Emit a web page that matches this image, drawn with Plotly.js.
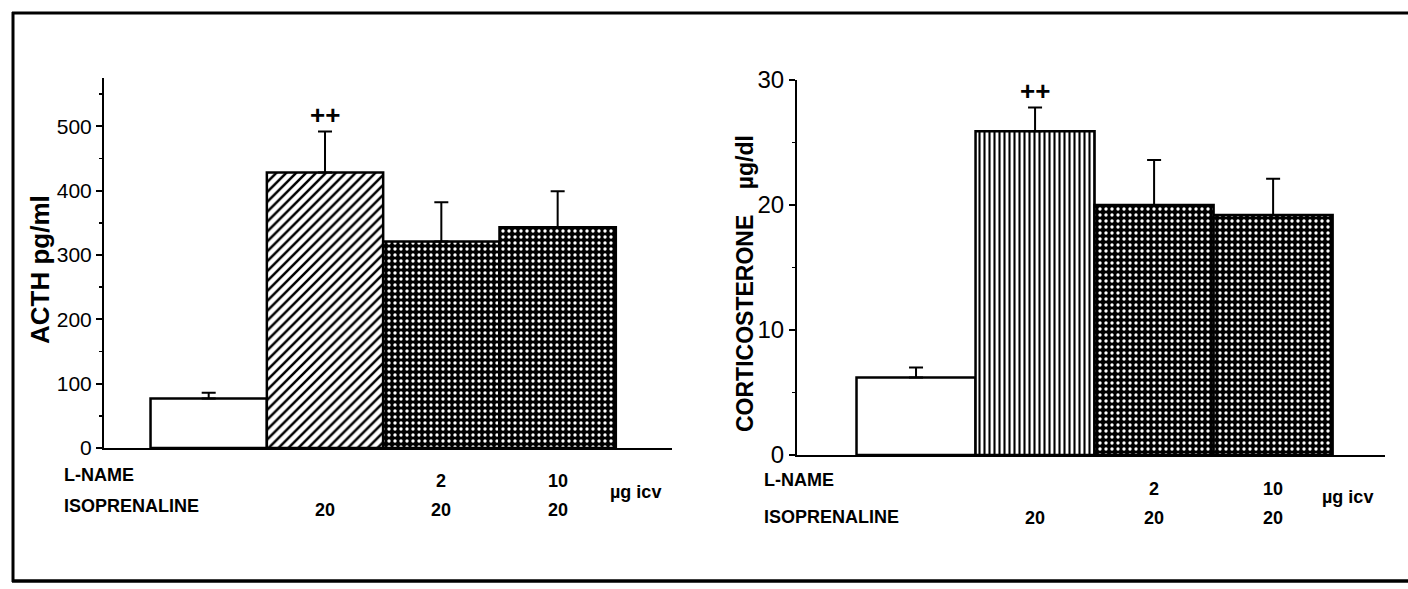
<!DOCTYPE html>
<html>
<head>
<meta charset="utf-8">
<script src="https://cdn.plot.ly/plotly-3.0.1.min.js"></script>
<style>html,body{margin:0;padding:0;background:#fff;}#chart{width:1408px;height:589px;}</style>
</head>
<body>
<div id="chart"></div>
<script>
// ---------- data ----------
const categories = ['Vehicle', 'ISO 20', 'L-NAME 2 + ISO 20', 'L-NAME 10 + ISO 20'];
const acthValues = [77, 428, 321, 343];
const acthErrors = [9, 64, 61, 56];
const corticoValues = [6.2, 25.9, 20.0, 19.2];
const corticoErrors = [0.8, 1.9, 3.6, 2.9];
const significance = ['', '++', '', ''];
const lNameDoses = ['', '', '2', '10'];
const isoDoses = ['', '20', '20', '20'];
const acthTicks = [0, 100, 200, 300, 400, 500];
const acthTickText = ['0', '100', '200', '300', '400', '500'];
const acthMinorTicks = [50, 150, 250, 350, 450, 550];
const corticoTicks = [0, 10, 20, 30];
const corticoTickText = ['0', '10', '20', '30'];
const corticoMinorTicks = [5, 15, 25];
const rowLabels = ['L-NAME', 'ISOPRENALINE'];
const unitLabel = 'µg icv';
const acthTitle = 'ACTH pg/ml';
const corticoTitle = 'CORTICOSTERONE\u00a0\u00a0\u00a0\u00a0µg/dl';

// ---------- styles ----------
const W = 1408, H = 589;
const px = v => v / W;
const py = v => 1 - v / H;
const FAM = '"Liberation Sans", Arial, Helvetica, sans-serif';
const boldLbl = {family: FAM, size: 18, color: '#000', weight: 'bold'};

const patternsLeft = [
  {shape: '', bgcolor: '#fff', fgcolor: '#fff'},
  {shape: '/', bgcolor: '#fff', fgcolor: '#000', size: 7, solidity: 0.36},
  {shape: '.', bgcolor: '#000', fgcolor: '#fff', size: 6, solidity: 0.25},
  {shape: '.', bgcolor: '#000', fgcolor: '#fff', size: 6, solidity: 0.25}
];
const patternsRight = [
  {shape: '', bgcolor: '#fff', fgcolor: '#fff'},
  {shape: '|', bgcolor: '#fff', fgcolor: '#000', size: 5, solidity: 0.42},
  {shape: '.', bgcolor: '#000', fgcolor: '#fff', size: 6, solidity: 0.25},
  {shape: '.', bgcolor: '#000', fgcolor: '#fff', size: 6, solidity: 0.25}
];

function barTraces(vals, errs, pats, xa, ya) {
  return vals.map((v, i) => ({
    type: 'bar', x: [categories[i]], y: [v], xaxis: xa, yaxis: ya,
    width: 1, showlegend: false, hoverinfo: 'skip',
    marker: {color: pats[i].bgcolor, line: {color: '#000', width: 2.5}, pattern: {
      shape: pats[i].shape, bgcolor: pats[i].bgcolor, fgcolor: pats[i].fgcolor,
      size: pats[i].size || 8, solidity: pats[i].solidity || 0.3, fillmode: 'replace'}},
    error_y: {type: 'data', symmetric: false, array: [errs[i]], arrayminus: [0], color: '#000', thickness: 2, width: 7}
  }));
}

const data = [
  ...barTraces(acthValues, acthErrors, patternsLeft, 'x', 'y'),
  ...barTraces(corticoValues, corticoErrors, patternsRight, 'x2', 'y2')
];

const annotations = [];
function addAnnots(xa, ya, vals, errs, font, yL, yIso, labelX, labelYL, labelYIso, unitX, unitY) {
  categories.forEach((c, i) => {
    if (significance[i]) annotations.push({xref: xa, yref: ya, x: c, y: vals[i] + errs[i], text: significance[i],
      showarrow: false, yanchor: 'middle', yshift: 16, font: {family: FAM, size: 26, color: '#000', weight: 'bold'}});
    if (lNameDoses[i]) annotations.push({xref: xa, yref: 'paper', x: c, y: py(yL), text: lNameDoses[i], showarrow: false, yanchor: 'middle', font: font});
    if (isoDoses[i]) annotations.push({xref: xa, yref: 'paper', x: c, y: py(yIso), text: isoDoses[i], showarrow: false, yanchor: 'middle', font: font});
  });
  annotations.push({xref: 'paper', yref: 'paper', x: px(labelX), y: py(labelYL), text: rowLabels[0], showarrow: false, xanchor: 'left', yanchor: 'middle', font: font});
  annotations.push({xref: 'paper', yref: 'paper', x: px(labelX), y: py(labelYIso), text: rowLabels[1], showarrow: false, xanchor: 'left', yanchor: 'middle', font: font});
  annotations.push({xref: 'paper', yref: 'paper', x: px(unitX), y: py(unitY), text: unitLabel, showarrow: false, xanchor: 'left', yanchor: 'middle', font: font});
}
addAnnots('x', 'y', acthValues, acthErrors, boldLbl, 481, 510, 62, 475, 506, 608, 492);
addAnnots('x2', 'y2', corticoValues, corticoErrors, boldLbl, 489, 518, 762, 480, 517, 1320, 497);

// axis titles (rotated)
annotations.push({xref: 'paper', yref: 'paper', x: px(40), y: py(270), text: acthTitle, textangle: -90, showarrow: false,
  xanchor: 'center', yanchor: 'middle', font: {family: FAM, size: 26, color: '#000', weight: 'bold'}});
annotations.push({xref: 'paper', yref: 'paper', x: px(745), y: py(284), text: corticoTitle, textangle: -90, showarrow: false,
  xanchor: 'center', yanchor: 'middle', font: {family: FAM, size: 23, color: '#000', weight: 'bold'}});

const xCommon = {type: 'category', showline: true, linecolor: '#000', linewidth: 2, ticks: '', showticklabels: false, showgrid: false, zeroline: false, fixedrange: true};
const yCommon = {showline: true, linecolor: '#000', linewidth: 2, ticks: 'outside', ticklen: 6, tickwidth: 2, tickcolor: '#000', showgrid: false, zeroline: false, tickmode: 'array', fixedrange: true};

const layout = {
  width: W, height: H, margin: {l: 0, r: 0, t: 0, b: 0},
  paper_bgcolor: '#fff', plot_bgcolor: 'rgba(0,0,0,0)',
  bargap: 0, barmode: 'overlay', showlegend: false,
  xaxis: Object.assign({}, xCommon, {domain: [px(104), px(672)], range: [-0.9, 3.983], anchor: 'y'}),
  yaxis: Object.assign({}, yCommon, {domain: [py(448), py(78)], range: [0, 575], anchor: 'x',
    tickvals: acthTicks, ticktext: acthTickText, tickfont: {family: FAM, size: 21, color: '#000'},
    minor: {tickmode: 'array', tickvals: acthMinorTicks, ticks: 'outside', ticklen: 3, tickwidth: 1.5, tickcolor: '#000', showgrid: false}}),
  xaxis2: Object.assign({}, xCommon, {domain: [px(797), px(1385)], range: [-1.0, 3.94], anchor: 'y2'}),
  yaxis2: Object.assign({}, yCommon, {domain: [py(455), py(80)], range: [0, 30], anchor: 'x2',
    tickvals: corticoTicks, ticktext: corticoTickText, tickfont: {family: FAM, size: 24, color: '#000'},
    minor: {tickmode: 'array', tickvals: corticoMinorTicks, ticks: 'outside', ticklen: 3, tickwidth: 1.5, tickcolor: '#000', showgrid: false}}),
  annotations: annotations,
  shapes: [
    {type: 'line', xref: 'paper', yref: 'paper', x0: px(13), x1: px(13), y0: py(12), y1: py(582), line: {color: '#000', width: 3}},
    {type: 'line', xref: 'paper', yref: 'paper', x0: px(12), x1: 1, y0: py(13), y1: py(13), line: {color: '#000', width: 3}},
    {type: 'line', xref: 'paper', yref: 'paper', x0: px(12), x1: 1, y0: py(581), y1: py(581), line: {color: '#000', width: 3.5}}
  ]
};

Plotly.newPlot('chart', data, layout, {staticPlot: true, displayModeBar: false});
</script>
</body>
</html>
